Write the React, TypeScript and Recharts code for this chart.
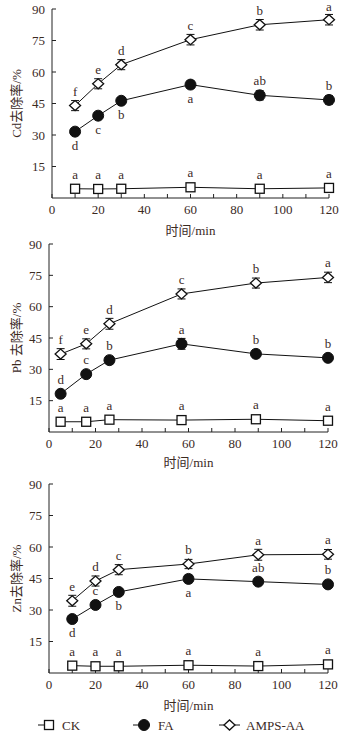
import { LineChart, Line, XAxis, YAxis, ErrorBar, LabelList } from "recharts";

const SERIF = '"Liberation Serif", "DejaVu Serif", serif';
const MIXED = '"Liberation Serif", "Noto Sans CJK SC", serif';
const INK = "#3b2a1f";

// Cd panel
const cdTime = [10, 20, 30, 60, 90, 120];
const cdCK = [4.4, 4.3, 4.4, 5.1, 4.4, 4.8];
const cdFA = [31.6, 39.2, 46.3, 54.0, 48.9, 46.7];
const cdAMPS = [44.0, 54.4, 63.5, 75.4, 82.5, 84.9];
const cdCKErr = [1.2, 1.2, 1.2, 1.3, 1.2, 1.3];
const cdFAErr = [1.5, 1.5, 1.5, 1.8, 2.2, 2.0];
const cdAMPSErr = [2.4, 2.4, 2.4, 2.5, 2.5, 2.5];
const cdCKSig = ["a", "a", "a", "a", "a", "a"];
const cdFASig = ["d", "c", "b", "a", "ab", "b"];
const cdFABelow = [true, true, true, true, false, false];
const cdAMPSSig = ["f", "e", "d", "c", "b", "a"];

// Pb panel
const pbTime = [5, 16, 26, 57, 89, 120];
const pbCK = [4.9, 4.9, 5.9, 5.7, 6.1, 5.4];
const pbFA = [18.3, 27.7, 34.4, 42.2, 37.4, 35.5];
const pbAMPS = [37.3, 42.2, 51.8, 66.1, 71.3, 74.0];
const pbCKErr = [1.2, 1.2, 1.3, 1.2, 1.3, 1.2];
const pbFAErr = [1.5, 1.5, 1.8, 2.6, 1.8, 1.6];
const pbAMPSErr = [2.6, 2.4, 2.6, 2.4, 2.4, 2.5];
const pbCKSig = ["a", "a", "a", "a", "a", "a"];
const pbFASig = ["d", "c", "b", "a", "b", "b"];
const pbFABelow = [false, false, false, false, false, false];
const pbAMPSSig = ["f", "e", "d", "c", "b", "a"];

// Zn panel
const znTime = [10, 20, 30, 60, 90, 120];
const znCK = [3.5, 3.2, 3.2, 3.7, 3.3, 4.1];
const znFA = [25.7, 32.4, 38.6, 44.8, 43.5, 42.2];
const znAMPS = [34.4, 43.8, 49.2, 51.9, 56.3, 56.5];
const znCKErr = [1.2, 1.3, 1.2, 1.2, 1.2, 1.5];
const znFAErr = [1.5, 1.5, 1.5, 1.8, 1.5, 1.5];
const znAMPSErr = [2.6, 2.4, 2.4, 2.2, 2.6, 2.3];
const znCKSig = ["a", "a", "a", "a", "a", "a"];
const znFASig = ["d", "c", "b", "a", "ab", "b"];
const znFABelow = [true, false, true, true, false, false];
const znAMPSSig = ["e", "d", "c", "b", "a", "a"];

const xTicks = [0, 10, 20, 30, 40, 50, 60, 70, 80, 90, 100, 110, 120];
const yTicks = [15, 30, 45, 60, 75, 90];

const buildRows = (
  time: number[], ck: number[], fa: number[], amps: number[],
  ckErr: number[], faErr: number[], ampsErr: number[],
  ckSig: string[], faSig: string[], ampsSig: string[]
) =>
  time.map((t, i) => ({
    t,
    ck: ck[i], fa: fa[i], amps: amps[i],
    ckErr: ckErr[i], faErr: faErr[i], ampsErr: ampsErr[i],
    ckSig: ckSig[i], faSig: faSig[i], ampsSig: ampsSig[i],
  }));

const SquareMark = ({ cx, cy }: any) => (
  <rect x={cx - 4.5} y={cy - 4.5} width={9} height={9} fill="#fff" stroke="#111" strokeWidth={1.3} />
);
const CircleMark = ({ cx, cy }: any) => <circle cx={cx} cy={cy} r={5.5} fill="#111" stroke="#111" />;
const DiamondMark = ({ cx, cy }: any) => (
  <path
    d={`M${cx - 5.5},${cy} L${cx},${cy - 5} L${cx + 5.5},${cy} L${cx},${cy + 5} Z`}
    fill="#fff"
    stroke="#111"
    strokeWidth={1.3}
  />
);

const letter = (p: any, below: boolean[] | null) => {
  const x = p.x ?? p.viewBox?.x;
  const y = p.y ?? p.viewBox?.y;
  const down = below ? below[p.index] : false;
  return (
    <text
      key={`l-${p.index}`}
      x={x}
      y={down ? y + 18 : Math.max(y - 10, 11)}
      textAnchor="middle"
      fontFamily={SERIF}
      fontSize={13}
      fill={INK}
    >
      {p.value}
    </text>
  );
};

const YTitle = ({ viewBox, text }: any) => {
  const cx = 16;
  const cy = viewBox.y + viewBox.height / 2;
  return (
    <text
      x={cx}
      y={cy}
      transform={`rotate(-90, ${cx}, ${cy})`}
      textAnchor="middle"
      dominantBaseline="central"
      fontFamily={MIXED}
      fontSize={13}
      fill={INK}
    >
      {text}
    </text>
  );
};

const Panel = ({ rows, faBelow, title, top, height, mTop, mRight, yWidth, xHeight, xLabelOffset }: any) => (
  <div style={{ position: "absolute", left: 0, top }}>
    <LineChart
      width={350}
      height={height}
      data={rows}
      margin={{ top: mTop, right: mRight, bottom: 0, left: 0 }}
    >
      <XAxis
        dataKey="t"
        type="number"
        domain={[0, 120]}
        ticks={xTicks}
        tickFormatter={(v: number) => (v % 20 === 0 ? String(v) : "")}
        tickSize={-4}
        tickMargin={11}
        height={xHeight}
        stroke="#222"
        tick={{ fill: INK, fontFamily: SERIF, fontSize: 13 }}
        label={{
          value: "时间/min",
          position: "insideBottom",
          offset: xLabelOffset,
          fill: INK,
          fontFamily: MIXED,
          fontSize: 13,
        }}
      />
      <YAxis
        type="number"
        domain={[0, 90]}
        ticks={yTicks}
        tickSize={-4}
        tickMargin={11}
        width={yWidth}
        stroke="#222"
        tick={{ fill: INK, fontFamily: SERIF, fontSize: 13 }}
        label={<YTitle text={title} />}
      />
      <Line
        dataKey="ck"
        stroke="#111"
        strokeWidth={1}
        isAnimationActive={false}
        dot={(p: any) => <SquareMark key={`s-${p.index}`} {...p} />}
        activeDot={false}
      >
        <ErrorBar dataKey="ckErr" width={4} stroke="#111" strokeWidth={1} direction="y" />
        <LabelList dataKey="ckSig" content={(p: any) => letter(p, null)} />
      </Line>
      <Line
        dataKey="fa"
        stroke="#111"
        strokeWidth={1}
        isAnimationActive={false}
        dot={(p: any) => <CircleMark key={`c-${p.index}`} {...p} />}
        activeDot={false}
      >
        <ErrorBar dataKey="faErr" width={4} stroke="#111" strokeWidth={1} direction="y" />
        <LabelList dataKey="faSig" content={(p: any) => letter(p, faBelow)} />
      </Line>
      <Line
        dataKey="amps"
        stroke="#111"
        strokeWidth={1}
        isAnimationActive={false}
        dot={(p: any) => <DiamondMark key={`d-${p.index}`} {...p} />}
        activeDot={false}
      >
        <ErrorBar dataKey="ampsErr" width={4} stroke="#111" strokeWidth={1} direction="y" />
        <LabelList dataKey="ampsSig" content={(p: any) => letter(p, null)} />
      </Line>
    </LineChart>
  </div>
);

const LegendRow = () => (
  <svg
    width={350}
    height={26}
    style={{ position: "absolute", left: 0, top: 712 }}
  >
    <line x1={38} x2={53} y1={13} y2={13} stroke="#111" />
    <SquareMark cx={49} cy={13} />
    <text x={62} y={17.5} fontFamily={SERIF} fontSize={13} fill={INK}>CK</text>
    <line x1={133} x2={150} y1={13} y2={13} stroke="#111" />
    <CircleMark cx={144} cy={13} />
    <text x={158} y={17.5} fontFamily={SERIF} fontSize={13} fill={INK}>FA</text>
    <line x1={219} x2={240} y1={13} y2={13} stroke="#111" />
    <DiamondMark cx={229.5} cy={13} />
    <text x={246} y={17.5} fontFamily={SERIF} fontSize={13} fill={INK}>AMPS-AA</text>
  </svg>
);

const App = () => {
  const cdRows = buildRows(cdTime, cdCK, cdFA, cdAMPS, cdCKErr, cdFAErr, cdAMPSErr, cdCKSig, cdFASig, cdAMPSSig);
  const pbRows = buildRows(pbTime, pbCK, pbFA, pbAMPS, pbCKErr, pbFAErr, pbAMPSErr, pbCKSig, pbFASig, pbAMPSSig);
  const znRows = buildRows(znTime, znCK, znFA, znAMPS, znCKErr, znFAErr, znAMPSErr, znCKSig, znFASig, znAMPSSig);

  return (
    <div style={{ position: "absolute", left: 0, top: 0, width: 350, height: 737, background: "#fff" }}>
      <Panel rows={cdRows} faBelow={cdFABelow} title="Cd去除率/%" top={0} height={240} mTop={9} mRight={21} yWidth={52} xHeight={42} xLabelOffset={5} />
      <Panel rows={pbRows} faBelow={pbFABelow} title="Pb 去除率/%" top={234} height={240} mTop={10} mRight={22} yWidth={49} xHeight={42} xLabelOffset={7} />
      <Panel rows={znRows} faBelow={znFABelow} title="Zn去除率/%" top={474} height={239} mTop={10} mRight={22} yWidth={49} xHeight={40} xLabelOffset={3} />
      <LegendRow />
    </div>
  );
};

export default App;
